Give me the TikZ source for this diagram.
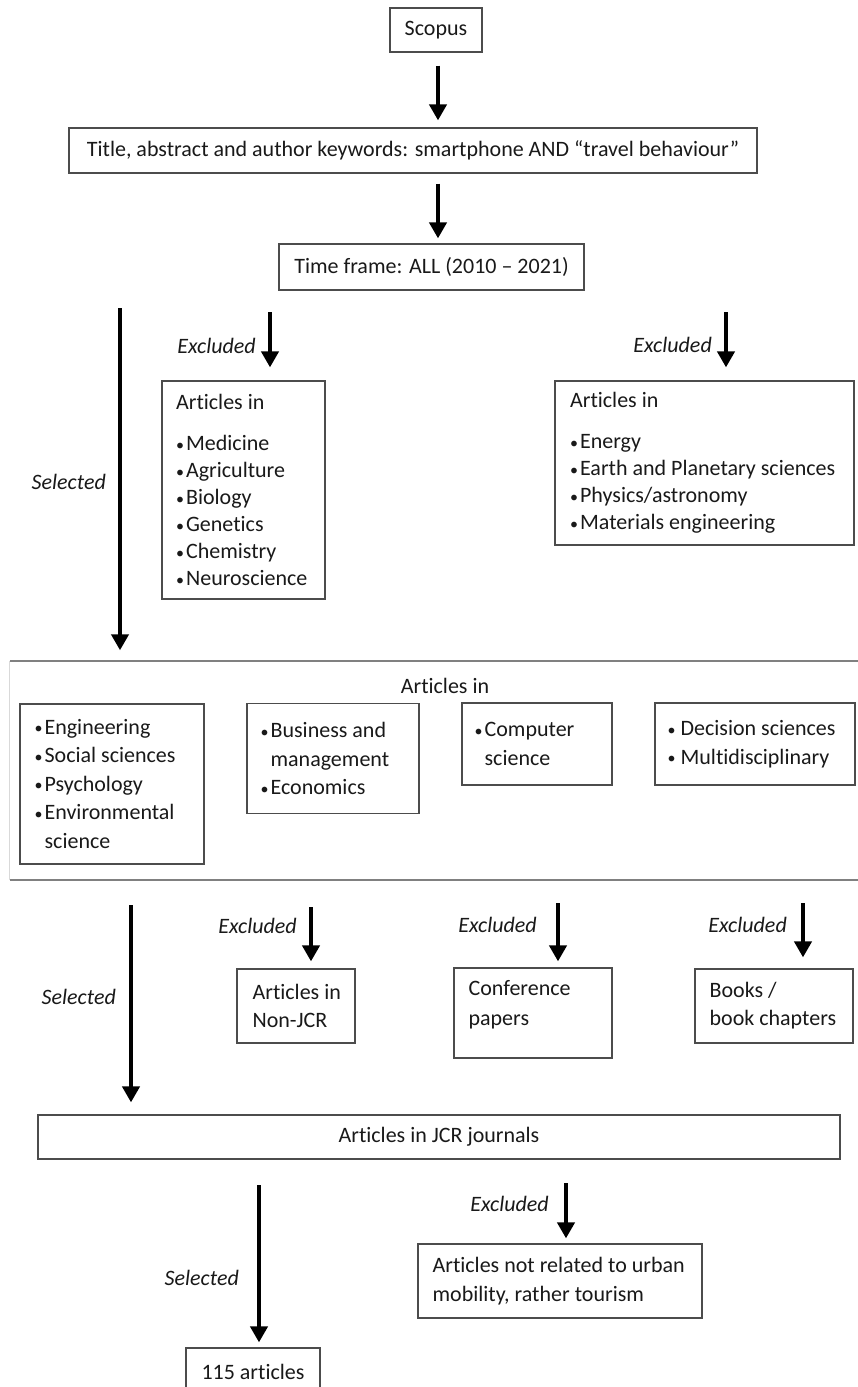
\documentclass[tikz,border=0pt]{standalone}
\usepackage{fontspec}
\setmainfont{Carlito}[Ligatures={NoCommon}]
\usetikzlibrary{arrows.meta}
\newcommand\bul{\makebox[10pt][l]{\raisebox{0.5pt}{\fontsize{16}{16}\selectfont•}}}
\newcommand\bulsp{\makebox[14pt][l]{\hspace{1pt}\raisebox{0.5pt}{\fontsize{16}{16}\selectfont•}}}
\newcommand\nob{\hspace{10pt}}
\begin{document}
\begin{tikzpicture}[x=1pt,y=-1pt,
  box/.style={draw=black!70, line width=1.2pt, inner sep=0pt, text=black!90, font=\fontsize{22}{28}\selectfont},
  txt/.style={inner sep=0pt, align=left, anchor=west, text=black!90, font=\fontsize{22}{28}\selectfont},
  arr/.style={line width=4.5pt, -{Triangle[width=17pt,length=16pt]}},
  lab/.style={font=\fontsize{22}{26}\selectfont\itshape, inner sep=0pt, anchor=east, text=black!90},
  bandline/.style={draw=black!50, line width=2pt},
]
\useasboundingbox (0,0) rectangle (857,1387);

% top chain
\node[box, minimum width=92, minimum height=44] (scopus) at (436,30) {Scopus};
\node[box, minimum width=688, minimum height=45] (title) at (413,150.5) {Title, abstract and author keywords: smartphone AND “travel behaviour”};
\node[box, minimum width=305, minimum height=46] (time) at (431.5,267) {Time frame: ALL (2010 – 2021)};
\coordinate (c1) at (438,0);
\draw[arr, shorten <=13pt, shorten >=7pt] (scopus.south -| c1) -- (c1 |- title.north);
\draw[arr, shorten <=10pt, shorten >=5pt] (title.south -| c1) -- (c1 |- time.north);

% first exclusion
\node[box, minimum width=163, minimum height=218] (exA) at (243.5,490) {};
\node[txt, font=\fontsize{22}{27}\selectfont] (exAt) at ([xshift=14.5pt]exA.west)
  {Articles in\\[14pt] \bul Medicine\\ \bul Agriculture\\ \bul Biology\\ \bul Genetics\\ \bul Chemistry\\ \bul Neuroscience};
\node[box, minimum width=299, minimum height=164] (exB) at (704.5,463) {};
\node[txt, font=\fontsize{22}{27}\selectfont] (exBt) at ([xshift=15.5pt]exB.west)
  {Articles in\\[14pt] \bul Energy\\ \bul Earth and Planetary sciences\\ \bul Physics/astronomy\\ \bul Materials engineering};

\coordinate (x1) at (270,312);
\draw[arr, shorten >=13pt] (x1) -- (x1 |- exA.north);
\node[lab] (lx1) at (256,346) {Excluded};
\coordinate (x2) at (726,312);
\draw[arr, shorten >=13pt] (x2) -- (x2 |- exB.north);
\node[lab] (lx2) at (712,345) {Excluded};

% band
\node[minimum width=850, minimum height=218, inner sep=0pt] (band) at (435,770.5) {};
\draw[bandline] (band.north west) -- (band.north east);
\draw[bandline] (band.south west) -- (band.south east);
\draw[draw=black!15, line width=0.8pt] (band.north west) -- (band.south west);
\coordinate (s1) at (120,308);
\draw[arr, shorten >=11pt] (s1) -- (s1 |- band.north);
\node[lab] (ls1) at (106,482) {Selected};

\node[inner sep=0pt, font=\fontsize{22}{28}\selectfont, text=black!90] (artin) at (445,686) {Articles in};
\node[box, minimum width=184, minimum height=160] (bA) at (112,784) {};
\node[txt, font=\fontsize{22}{28.5}\selectfont] (bAt) at ([xshift=15pt]bA.west)
  {\bul Engineering\\ \bul Social sciences\\ \bul Psychology\\ \bul Environmental\\ \nob science};
\node[box, minimum width=172, minimum height=110] (bB) at (333,758.5) {};
\node[txt, font=\fontsize{22}{28.5}\selectfont] (bBt) at ([xshift=14pt]bB.west)
  {\bul Business and\\ \nob management\\ \bul Economics};
\node[box, minimum width=150, minimum height=82] (bC) at (537,744) {};
\node[txt, font=\fontsize{22}{28.5}\selectfont] (bCt) at ([xshift=13pt]bC.west)
  {\bul Computer\\ \nob science};
\node[box, minimum width=200, minimum height=82] (bD) at (755,744) {};
\node[txt, font=\fontsize{22}{28.5}\selectfont] (bDt) at ([xshift=12pt]bD.west)
  {\bulsp Decision sciences\\ \bulsp Multidisciplinary};

% second exclusion
\node[box, minimum width=118, minimum height=74] (nonjcr) at (296,1006) {};
\node[txt] (nonjcrt) at ([xshift=16pt]nonjcr.west) {Articles in\\ Non-JCR};
\node[box, minimum width=158, minimum height=90] (conf) at (533,1013) {};
\node[txt, font=\fontsize{22}{30}\selectfont] (conft) at ([xshift=15pt,yshift=8pt]conf.west) {Conference\\ papers};
\node[box, minimum width=158, minimum height=74] (books) at (774,1006) {};
\node[txt] (bookst) at ([xshift=15pt]books.west) {Books /\\ book chapters};
\node[box, minimum width=802, minimum height=44] (jcr) at (439,1137) {Articles in JCR journals};

\coordinate (s2) at (131,905);
\draw[arr, shorten >=12pt] (s2) -- (s2 |- jcr.north);
\node[lab] (ls2) at (116,997) {Selected};
\coordinate (x3) at (311,907);
\draw[arr, shorten >=7pt] (x3) -- (x3 |- nonjcr.north);
\node[lab] (lx3) at (297,926) {Excluded};
\coordinate (x4) at (558,903);
\draw[arr, shorten >=6pt] (x4) -- (x4 |- conf.north);
\node[lab] (lx4) at (537,925) {Excluded};
\coordinate (x5) at (803,903);
\draw[arr, shorten >=11pt] (x5) -- (x5 |- books.north);
\node[lab] (lx5) at (787,925) {Excluded};

% final
\node[box, minimum width=284, minimum height=74] (urban) at (560,1281) {};
\node[txt, font=\fontsize{22}{29}\selectfont] (urbant) at ([xshift=15pt]urban.west)
  {Articles not related to urban\\ mobility, rather tourism};
\node[box, minimum width=134, minimum height=48] (final) at (253,1372) {115 articles};
\coordinate (s3) at (259,1185);
\draw[arr, shorten >=5pt] (s3) -- (s3 |- final.north);
\node[lab] (ls3) at (239,1278) {Selected};
\coordinate (x6) at (566,1183);
\draw[arr, shorten >=5pt] (x6) -- (x6 |- urban.north);
\node[lab] (lx6) at (549,1204) {Excluded};
\end{tikzpicture}
\end{document}
